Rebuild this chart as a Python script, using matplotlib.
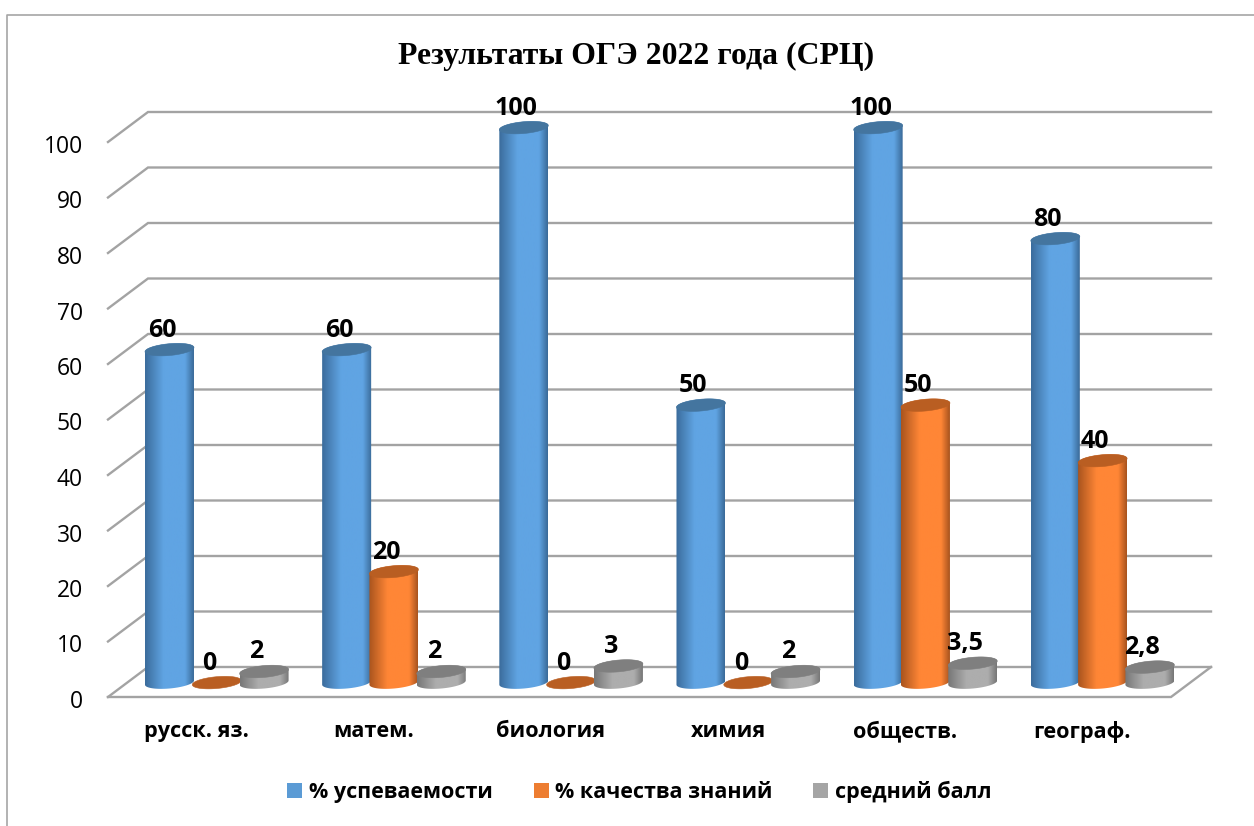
import numpy as np
import matplotlib
matplotlib.use("Agg")
import matplotlib.pyplot as plt
from matplotlib.colors import LinearSegmentedColormap
from matplotlib.lines import Line2D
from matplotlib.patches import Polygon, Patch
from matplotlib.transforms import ScaledTranslation

categories = ["русск. яз.", "матем.", "биология", "химия", "обществ.", "географ."]
success = [60, 60, 100, 50, 100, 80]
quality = [0, 20, 0, 0, 50, 40]
average = [2, 2, 3, 2, 3.5, 2.8]
labels_avg = ["2", "2", "3", "2", "3,5", "2,8"]
series_names = ["% успеваемости", "% качества знаний", "средний балл"]
yticks = list(range(0, 101, 10))
title = "Результаты ОГЭ 2022 года (СРЦ)"

W, H = 1254, 826
GRID = "#A3A3A3"
fig = plt.figure(figsize=(W / 100, H / 100), dpi=100, facecolor="white")
fig.add_artist(Line2D([6.5 / W, 6.5 / W, 1], [0, 1 - 15 / H, 1 - 15 / H], transform=fig.transFigure,
                      color="#A6A6A6", lw=1.2, zorder=-1))

# axes = front plane of the 3-D box
x0, x1, y0 = 108, 1171, 697
px_unit = 5.55
ytop = 109.0
ax = fig.add_axes([x0 / W, 1 - y0 / H, (x1 - x0) / W, ytop * px_unit / H])
ax.patch.set_alpha(0)
for s in ax.spines.values():
    s.set_visible(False)
ax.set_xlim(0, 6)
ax.set_ylim(0, ytop)
pxx = (x1 - x0) / 6
pxy = px_unit

DX, DY = 40 / pxx, 30 / pxy
for v in yticks:
    ax.plot([0, DX, 6 + DX], [v, v + DY, v + DY], color=GRID, lw=1.7, clip_on=False, zorder=1,
            solid_joinstyle="miter")
ax.plot([0, 6, 6 + DX], [0, 0, DY], color=GRID, lw=1.7, clip_on=False, zorder=1, solid_joinstyle="miter")

# cylinders
t = np.linspace(0, 2 * np.pi, 121)
half_w = 24.5
half_h = 5.9
tilt = 2.1


def ell(cx, cy, tt):
    return np.c_[cx + half_w * np.cos(tt) / pxx,
                 cy + (half_h * np.sin(tt) + tilt * np.cos(tt)) / pxy]


def cyl(cx, val, cmap, top, z):
    base = 14.4 / pxy
    ty = val + base
    if val > 0:
        lower = ell(cx, base, np.linspace(np.pi, 2 * np.pi, 60))
        upper = ell(cx, ty, np.linspace(0, np.pi, 60))
        body = Polygon(np.r_[lower, upper], closed=True, transform=ax.transData, fc="none", ec="none")
        ax.add_patch(body)
        im = ax.imshow(np.linspace(0, 1, 128)[None, :], cmap=cmap, aspect="auto", interpolation="bilinear",
                       extent=[cx - half_w / pxx, cx + half_w / pxx, 0, ty + half_h / pxy + 1], zorder=z)
        im.set_clip_box(fig.bbox)
        im.set_clip_path(body)
    ax.add_patch(Polygon(ell(cx, ty, t), closed=True, fc=top, ec=top, lw=0.4, zorder=z + 0.1, clip_on=False))


def cm(edge, mid, dark):
    return LinearSegmentedColormap.from_list("c", [(0, edge), (0.38, mid), (0.6, mid), (0.82, mid), (1, dark)])


styles = [(cm("#3B6C9C", "#60A4E3", "#3A6A98"), "#44759F"),
          (cm("#A9541E", "#FF8636", "#A8531E"), "#B95E22"),
          (cm("#777777", "#ADADAD", "#767676"), "#7F7F7F")]
offs = np.array([-47.3, 0, 47.3]) / pxx
shift = 20.2 / pxx
series = [success, quality, average]
for i in range(len(categories)):
    cx0 = i + 0.5 + shift
    for j, vals in enumerate(series):
        cmap, top = styles[j]
        cyl(cx0 + offs[j], vals[i], cmap, top, 3 + i + j * 0.2)

# data labels
for j, vals in enumerate(series):
    texts = labels_avg if j == 2 else [str(v) for v in vals]
    for i, (v, s) in enumerate(zip(vals, texts)):
        ax.annotate(s, (i + 0.5 + shift + offs[j], v + 14.4 / pxy), xytext=(-7.5 * 0.72, 22.5 * 0.72),
                    textcoords="offset points", ha="center", va="center_baseline", fontsize=18,
                    fontweight="bold", family="Open Sans", color="black", zorder=20, annotation_clip=False)

ax.set_xticks(np.arange(6) + 0.5)
ax.set_xticklabels(categories, fontsize=15.6, fontweight="bold", family="Open Sans")
ax.set_yticks(yticks)
ax.set_yticklabels([str(v) for v in yticks], fontsize=16.5, family="Open Sans")
ax.tick_params(length=0)
ax.tick_params(axis="x", pad=17)
ax.tick_params(axis="y", pad=18)
nudge = ScaledTranslation(0, -2 / 100, fig.dpi_scale_trans)
for lbl in ax.get_yticklabels():
    lbl.set_va("center_baseline")
    lbl.set_transform(lbl.get_transform() + nudge)
ax.set_xlim(0, 6)
ax.set_ylim(0, ytop)

fig.text(636 / W, 1 - 56 / H, title, ha="center", va="center", fontsize=22.9, fontweight="bold",
         family="Liberation Serif")

handles = [Patch(fc=c, ec="none") for c in ("#5B9BD5", "#ED7D31", "#A5A5A5")]
fig.legend(handles, series_names, loc="center", bbox_to_anchor=(639.5 / W, 1 - 792 / H), ncol=3, frameon=False,
           handlelength=0.7, handleheight=0.7, handletextpad=0.3, columnspacing=1.9,
           prop={"family": "Open Sans", "weight": "bold", "size": 15.5})

fig.savefig("out.png", dpi=100)
